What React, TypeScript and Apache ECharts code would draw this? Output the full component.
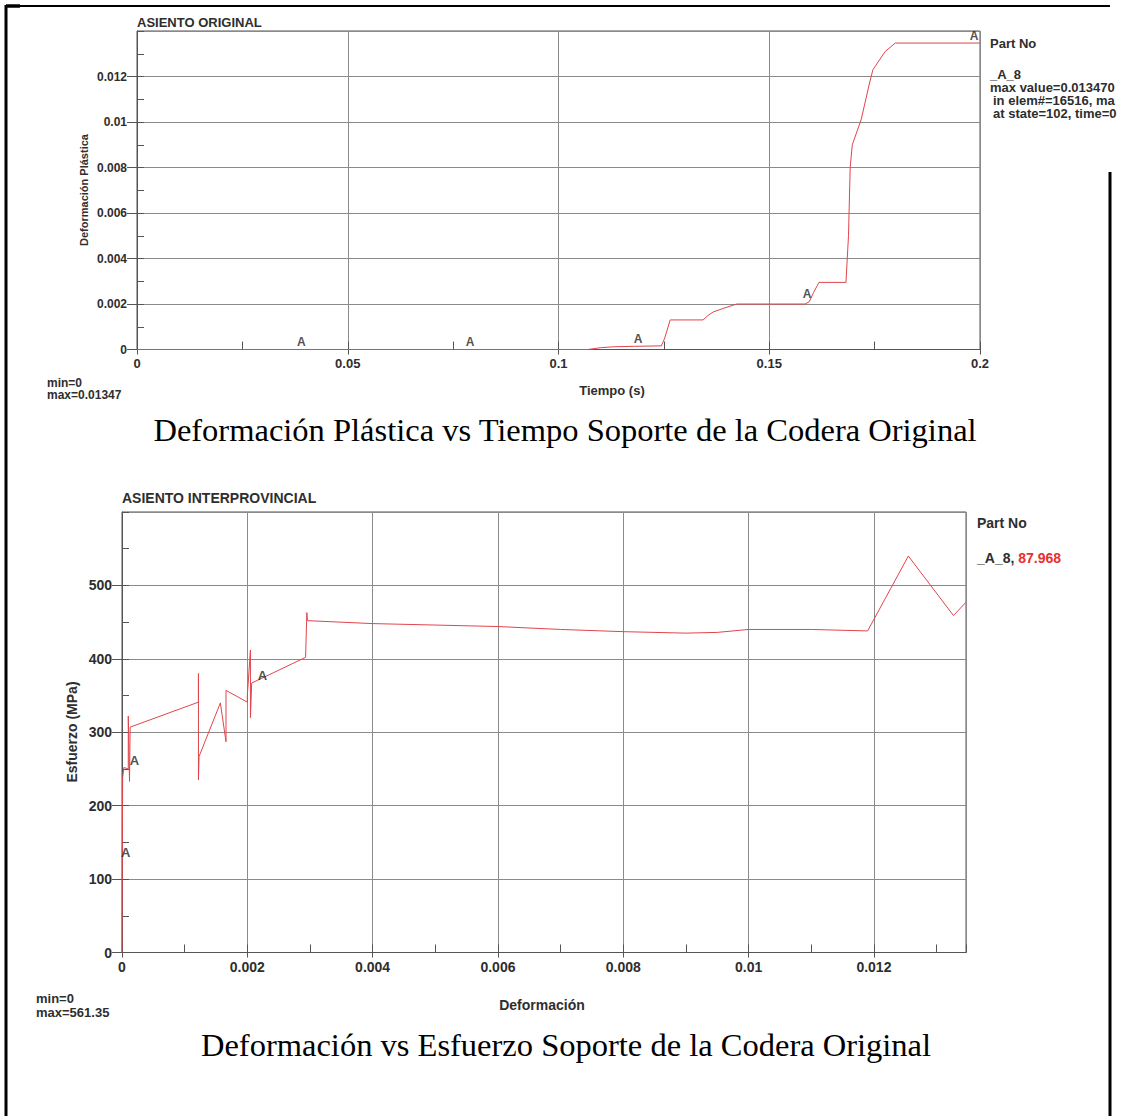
import React, { useEffect, useRef } from "react";
import * as echarts from "echarts";

// ---------- Top chart: Deformación Plástica vs Tiempo ----------
const topTime = [0, 0.107, 0.11, 0.113, 0.118, 0.1244, 0.1252, 0.1265, 0.1343, 0.1355, 0.1367, 0.139, 0.1423, 0.1585, 0.1595, 0.1605, 0.1618, 0.1682, 0.1688, 0.1692, 0.1697, 0.1718, 0.1739, 0.1746, 0.1775, 0.1799, 0.2];
const topStrain = [0, 0, 0.00008, 0.00012, 0.00014, 0.00016, 0.0005, 0.0013, 0.0013, 0.0015, 0.00165, 0.0018, 0.002, 0.002, 0.0021, 0.0025, 0.00295, 0.00295, 0.005, 0.008, 0.009, 0.0101, 0.0118, 0.0123, 0.0131, 0.01347, 0.01347];
const topMarkerTime = [0.039, 0.079, 0.1189, 0.159, 0.1986];
const topMarkerStrain = [0, 0, 0.00015, 0.0021, 0.01347];
const topXTicks = [0, 0.2, 0.05];
const topYTicks = [0, 0.014, 0.002];

// ---------- Bottom chart: Esfuerzo vs Deformación ----------
const botStrain = [0, 0.00001, 0.00003, 0.0001, 0.0001, 0.00012, 0.00013, 0.00122, 0.00122, 0.00122, 0.00123, 0.00157, 0.00166, 0.00166, 0.002, 0.002, 0.00205, 0.00205, 0.00207, 0.00293, 0.00295, 0.00296, 0.004, 0.005, 0.006, 0.007, 0.008, 0.009, 0.0095, 0.01, 0.011, 0.0119, 0.01255, 0.01327, 0.01347];
const botStress = [0, 238, 252, 250, 322, 233, 307, 341, 380, 235, 267, 340, 287, 357, 341, 350, 412, 320, 367, 402, 463, 452, 448, 446, 444, 440, 437, 435, 436, 440, 440, 438, 540, 459, 477];
const botMarkerStrain = [0.00006, 0.0002, 0.00224];
const botMarkerStress = [125, 251, 367];
const botXTicks = [0, 0.01347, 0.002];
const botYTicks = [0, 600, 100];

const SANS = "Liberation Sans";
const SERIF = "Liberation Serif";
const GRID_COLOR = "#8a8a8a";
const AXIS_COLOR = "#555";
const CURVE_COLOR = "#e0454c";
const TEXT_COLOR = "#2e2e2e";

function pairs(xs: number[], ys: number[]) {
  return xs.map((x, i) => [x, ys[i]]);
}

function mainX(grid: number, t: number[], fontSize: number, showMax: boolean) {
  return {
    type: "value", gridIndex: grid, position: "bottom",
    min: t[0], max: t[1], interval: t[2],
    axisLine: { show: true, onZero: false, lineStyle: { color: AXIS_COLOR, width: 1 } },
    axisTick: { show: true, length: 5, lineStyle: { color: AXIS_COLOR } },
    axisLabel: { show: true, margin: 7, fontFamily: SANS, fontWeight: "bold", fontSize, color: TEXT_COLOR, showMaxLabel: showMax },
    splitLine: { show: true, lineStyle: { color: GRID_COLOR, width: 1 } },
  };
}
function minorX(grid: number, t: number[]) {
  return {
    type: "value", gridIndex: grid, position: "bottom",
    min: t[0], max: t[1], interval: t[2] / 2,
    axisLine: { show: false },
    axisTick: { show: true, inside: true, length: 8, lineStyle: { color: AXIS_COLOR } },
    axisLabel: { show: false }, splitLine: { show: false },
  };
}
function mainY(grid: number, t: number[], fontSize: number) {
  return {
    type: "value", gridIndex: grid, position: "left",
    min: t[0], max: t[1], interval: t[2],
    axisLine: { show: true, onZero: false, lineStyle: { color: AXIS_COLOR, width: 1 } },
    axisTick: { show: true, length: 10, lineStyle: { color: AXIS_COLOR } },
    axisLabel: { show: true, margin: 10, fontFamily: SANS, fontWeight: "bold", fontSize, color: TEXT_COLOR, showMaxLabel: false },
    splitLine: { show: true, lineStyle: { color: GRID_COLOR, width: 1 } },
  };
}
function minorY(grid: number, t: number[]) {
  return {
    type: "value", gridIndex: grid, position: "left",
    min: t[0], max: t[1], interval: t[2] / 2,
    axisLine: { show: false },
    axisTick: { show: true, inside: true, length: 7, lineStyle: { color: AXIS_COLOR } },
    axisLabel: { show: false }, splitLine: { show: false },
  };
}

function txt(text: string, x: number, y: number, size: number, opts: any = {}) {
  return {
    type: "text", x, y, rotation: opts.rotation || 0, z: 10,
    style: {
      text, fill: opts.fill || TEXT_COLOR,
      fontFamily: opts.family || SANS, fontSize: size,
      fontWeight: opts.weight || "bold",
      align: opts.align || "left", verticalAlign: "middle",
    },
  };
}
function ln(x1: number, y1: number, x2: number, y2: number, w: number) {
  return { type: "line", shape: { x1, y1, x2, y2 }, style: { stroke: "#000", lineWidth: w }, z: 10 };
}

function markerSeries(xi: number, yi: number, xs: number[], ys: number[], size: number) {
  return {
    type: "scatter", xAxisIndex: xi, yAxisIndex: yi,
    data: pairs(xs, ys), symbolSize: 1, itemStyle: { color: "rgba(0,0,0,0)" },
    label: { show: true, position: "top", distance: 1, formatter: "A", fontFamily: SANS, fontWeight: "bold", fontSize: size, color: "#222" },
    z: 5,
  };
}

export default function App() {
  const ref = useRef<HTMLDivElement>(null);
  useEffect(() => {
    const chart = echarts.init(ref.current!, null, { renderer: "svg" });
    const option: any = {
      animation: false,
      backgroundColor: "#fff",
      grid: [
        { left: 137, top: 31, width: 843, height: 318.5, show: true, borderColor: AXIS_COLOR, borderWidth: 1 },
        { left: 122, top: 512, width: 844, height: 440.5, show: true, borderColor: AXIS_COLOR, borderWidth: 1 },
      ],
      xAxis: [
        mainX(0, topXTicks, 13, true),
        minorX(0, [0, 0.2, 0.05]),
        mainX(1, botXTicks, 14, false),
        minorX(1, [0, 0.01347, 0.002]),
      ],
      yAxis: [
        mainY(0, topYTicks, 12),
        minorY(0, topYTicks),
        mainY(1, botYTicks, 14),
        minorY(1, botYTicks),
      ],
      series: [
        {
          type: "line", xAxisIndex: 0, yAxisIndex: 0, data: pairs(topTime, topStrain),
          showSymbol: false, lineStyle: { color: CURVE_COLOR, width: 1 }, z: 4,
        },
        markerSeries(0, 0, topMarkerTime, topMarkerStrain, 12),
        {
          type: "line", xAxisIndex: 2, yAxisIndex: 2, data: pairs(botStrain, botStress),
          showSymbol: false, lineStyle: { color: CURVE_COLOR, width: 1 }, z: 4,
        },
        markerSeries(2, 2, botMarkerStrain, botMarkerStress, 13),
      ],
      graphic: [
        // page borders
        ln(6, 6, 1110, 6, 2),
        ln(6, 6, 20, 6, 3.5),
        ln(6, 5, 6, 1116, 3),
        ln(1110, 172, 1110, 1116, 3),
        // top chart texts
        txt("ASIENTO ORIGINAL", 137, 22, 13),
        txt("Tiempo (s)", 612, 390, 13, { align: "center" }),
        txt("Deformación Plástica", 84, 190, 11, { align: "center", rotation: Math.PI / 2 }),
        txt("min=0", 47, 383, 12),
        txt("max=0.01347", 47, 395, 12),
        txt("Part No", 990, 43, 13),
        txt("_A_8", 990, 74, 13),
        txt("max value=0.013470", 990, 87, 13),
        txt("in elem#=16516, ma", 993, 100, 13),
        txt("at state=102, time=0", 993, 113, 13),
        txt("Deformación Plástica vs Tiempo Soporte de la Codera Original", 565, 430, 32.5, { align: "center", family: SERIF, weight: "normal", fill: "#000" }),
        // bottom chart texts
        txt("ASIENTO INTERPROVINCIAL", 122, 498, 14),
        txt("Deformación", 542, 1005, 14, { align: "center" }),
        txt("Esfuerzo (MPa)", 72, 732, 14, { align: "center", rotation: Math.PI / 2 }),
        txt("min=0", 36, 998, 13),
        txt("max=561.35", 36, 1012, 13),
        txt("Part No", 977, 523, 14),
        {
          type: "text", x: 977, y: 558, z: 10,
          style: {
            text: "{a|_A_8, }{b|87.968}", verticalAlign: "middle",
            rich: {
              a: { fontFamily: SANS, fontWeight: "bold", fontSize: 14, fill: TEXT_COLOR },
              b: { fontFamily: SANS, fontWeight: "bold", fontSize: 14, fill: "#e8302f" },
            },
          },
        },
        txt("Deformación vs Esfuerzo Soporte de la Codera Original", 566, 1045, 32.5, { align: "center", family: SERIF, weight: "normal", fill: "#000" }),
      ],
    };
    chart.setOption(option);
    return () => chart.dispose();
  }, []);
  return <div ref={ref} style={{ position: "absolute", left: 0, top: 0, width: 1133, height: 1116 }} />;
}
